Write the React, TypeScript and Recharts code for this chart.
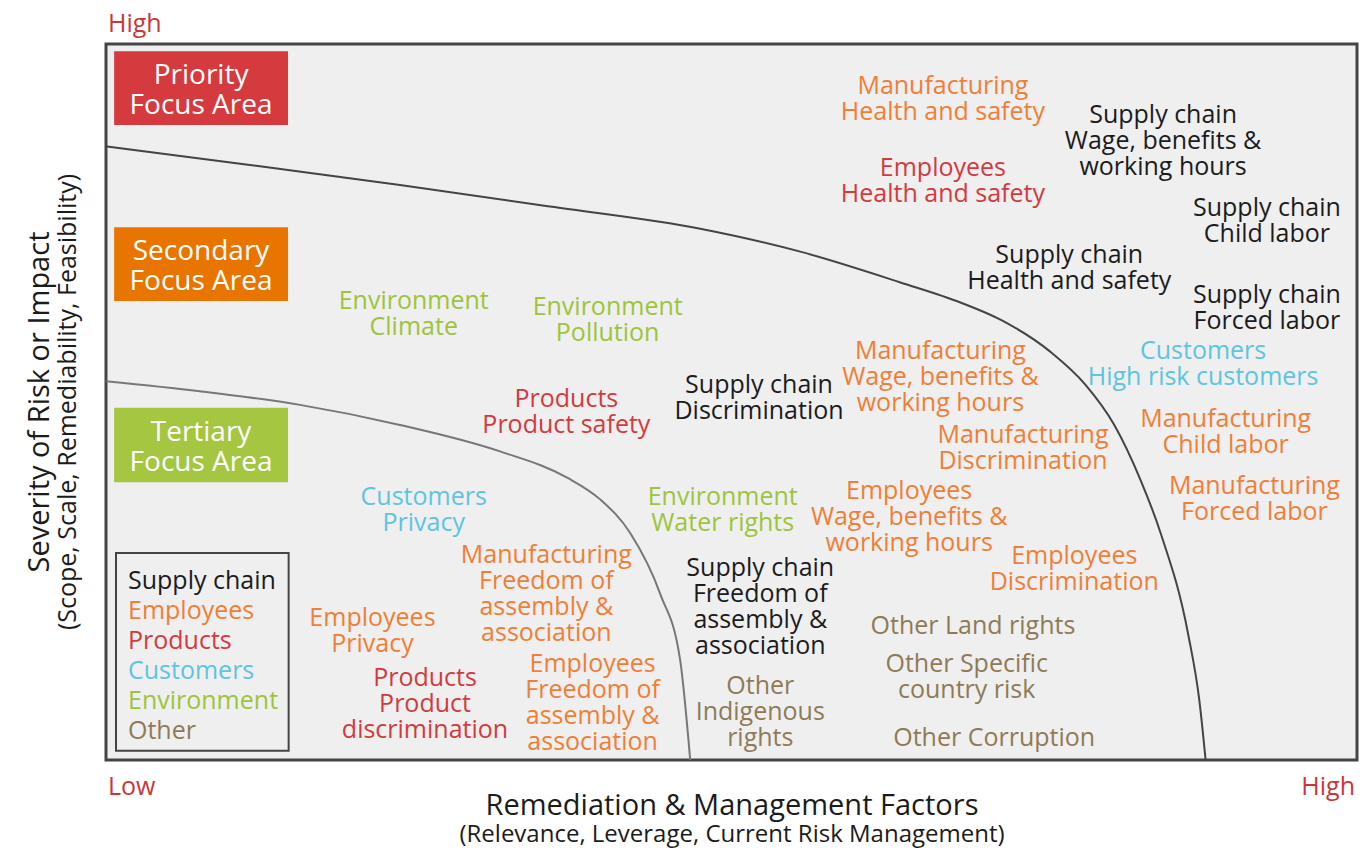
import React from 'react';
import { ComposedChart, XAxis, YAxis, Line, Scatter, ReferenceArea } from 'recharts';

const FONT = '"Open Sans", "Noto Sans", sans-serif';

// legend categories and their colours
const categories = ['Supply chain', 'Employees', 'Products', 'Customers', 'Environment', 'Other'];
const categoryColors: Record<string, string> = {
  'Supply chain': '#1b1b1b',
  Employees: '#f07e36',
  Manufacturing: '#f07e36',
  Products: '#d33a40',
  Customers: '#5ec4df',
  Environment: '#9dc43c',
  Other: '#8e7b55',
};

// x = remediation & management (0-100), y = severity (0-100)
const issues = [
  { group: 'Manufacturing', lines: ['Manufacturing', 'Health and safety'], x: 66.9, y: 92.6 },
  { group: 'Supply chain', lines: ['Supply chain', 'Wage, benefits &', 'working hours'], x: 84.5, y: 86.8 },
  { group: 'Products', lines: ['Employees', 'Health and safety'], x: 66.9, y: 81.1 },
  { group: 'Supply chain', lines: ['Supply chain', 'Child labor'], x: 92.8, y: 75.5 },
  { group: 'Supply chain', lines: ['Supply chain', 'Health and safety'], x: 77.0, y: 69.0 },
  { group: 'Supply chain', lines: ['Supply chain', 'Forced labor'], x: 92.8, y: 63.4 },
  { group: 'Environment', lines: ['Environment', 'Climate'], x: 24.6, y: 62.6 },
  { group: 'Environment', lines: ['Environment', 'Pollution'], x: 40.1, y: 61.8 },
  { group: 'Customers', lines: ['Customers', 'High risk customers'], x: 87.7, y: 55.6 },
  { group: 'Manufacturing', lines: ['Manufacturing', 'Wage, benefits &', 'working hours'], x: 66.7, y: 53.8 },
  { group: 'Products', lines: ['Products', 'Product safety'], x: 36.8, y: 48.9 },
  { group: 'Supply chain', lines: ['Supply chain', 'Discrimination'], x: 52.2, y: 50.8 },
  { group: 'Manufacturing', lines: ['Manufacturing', 'Child labor'], x: 89.5, y: 46.1 },
  { group: 'Manufacturing', lines: ['Manufacturing', 'Discrimination'], x: 73.3, y: 43.8 },
  { group: 'Customers', lines: ['Customers', 'Privacy'], x: 25.4, y: 35.2 },
  { group: 'Environment', lines: ['Environment', 'Water rights'], x: 49.3, y: 35.2 },
  { group: 'Employees', lines: ['Employees', 'Wage, benefits &', 'working hours'], x: 64.2, y: 34.2 },
  { group: 'Manufacturing', lines: ['Manufacturing', 'Forced labor'], x: 91.8, y: 36.7 },
  { group: 'Employees', lines: ['Employees', 'Discrimination'], x: 77.4, y: 27.0 },
  { group: 'Manufacturing', lines: ['Manufacturing', 'Freedom of', 'assembly &', 'association'], x: 35.2, y: 23.4 },
  { group: 'Supply chain', lines: ['Supply chain', 'Freedom of', 'assembly &', 'association'], x: 52.3, y: 21.7 },
  { group: 'Employees', lines: ['Employees', 'Privacy'], x: 21.3, y: 18.3 },
  { group: 'Other', lines: ['Other Land rights'], x: 69.3, y: 19.0 },
  { group: 'Other', lines: ['Other Specific', 'country risk'], x: 68.8, y: 11.9 },
  { group: 'Products', lines: ['Products', 'Product', 'discrimination'], x: 25.5, y: 8.1 },
  { group: 'Employees', lines: ['Employees', 'Freedom of', 'assembly &', 'association'], x: 38.9, y: 8.3 },
  { group: 'Other', lines: ['Other', 'Indigenous', 'rights'], x: 52.3, y: 7.0 },
  { group: 'Other', lines: ['Other Corruption'], x: 71.0, y: 3.4 },
];

// boundary between priority and secondary areas
const outerBoundary = [
  { x: 0, y: 85.7 },
  { x: 11.5, y: 83.1 },
  { x: 23.5, y: 80.3 },
  { x: 35.5, y: 77.3 },
  { x: 47.5, y: 74.2 },
  { x: 55.5, y: 71.0 },
  { x: 63.5, y: 66.7 },
  { x: 68.3, y: 63.9 },
  { x: 71.5, y: 61.5 },
  { x: 75.5, y: 57.0 },
  { x: 78.3, y: 52.4 },
  { x: 80.6, y: 46.8 },
  { x: 82.7, y: 39.1 },
  { x: 84.3, y: 31.7 },
  { x: 86.5, y: 17.6 },
  { x: 87.4, y: 8.3 },
  { x: 87.9, y: 0 },
];

// boundary between secondary and tertiary areas
const innerBoundary = [
  { x: 0, y: 52.9 },
  { x: 7.5, y: 51.5 },
  { x: 15.5, y: 49.6 },
  { x: 23.5, y: 46.8 },
  { x: 31.5, y: 43.1 },
  { x: 36.9, y: 39.4 },
  { x: 39.5, y: 36.4 },
  { x: 41.9, y: 31.7 },
  { x: 44.3, y: 23.2 },
  { x: 45.9, y: 13.9 },
  { x: 46.7, y: 0 },
];

const zones = [
  { name: ['Priority', 'Focus Area'], color: '#d53a3e', y1: 88.7, y2: 99.0 },
  { name: ['Secondary', 'Focus Area'], color: '#e87500', y1: 64.1, y2: 74.4 },
  { name: ['Tertiary', 'Focus Area'], color: '#a5c640', y1: 38.8, y2: 49.2 },
];

const LINE_H = 26;

const IssueLabel = (props: any) => {
  const { cx, cy, payload } = props;
  const n = payload.lines.length;
  const top = cy - ((n - 1) * LINE_H) / 2;
  return (
    <text
      x={cx}
      y={top}
      textAnchor="middle"
      dominantBaseline="central"
      fontFamily={FONT}
      fontSize={25}
      fill={categoryColors[payload.group]}
    >
      {payload.lines.map((l: string, i: number) => (
        <tspan key={i} x={cx} dy={i === 0 ? 0 : LINE_H}>
          {l}
        </tspan>
      ))}
    </text>
  );
};

const ZoneLabel = ({ viewBox, lines }: any) => {
  const { x, y, width, height } = viewBox;
  const cx = x + width / 2;
  const cy = y + height / 2;
  return (
    <text x={cx} y={cy - 15} textAnchor="middle" dominantBaseline="central" fontFamily={FONT} fontSize={28} fill="#fff">
      <tspan x={cx} dy={0}>{lines[0]}</tspan>
      <tspan x={cx} dy={30}>{lines[1]}</tspan>
    </text>
  );
};

const LegendLabel = ({ viewBox }: any) => {
  const { x, y } = viewBox;
  return (
    <g>
      {categories.map((c, i) => (
        <text
          key={c}
          x={x + 12}
          y={y + 26 + i * 30}
          dominantBaseline="central"
          fontFamily={FONT}
          fontSize={25}
          fill={categoryColors[c]}
        >
          {c}
        </text>
      ))}
    </g>
  );
};

const App = () => {
  return (
    <div style={{ position: 'absolute', left: 0, top: 0 }}>
      <ComposedChart width={1364} height={851} margin={{ top: 44, right: 7, bottom: 91, left: 106 }}>
        <XAxis type="number" dataKey="x" domain={[0, 100]} hide allowDataOverflow />
        <YAxis type="number" dataKey="y" domain={[0, 100]} hide allowDataOverflow />
        <ReferenceArea x1={0} x2={100} y1={0} y2={100} fill="#efefef" fillOpacity={1} stroke="#454545" strokeWidth={3} />
        {zones.map((z) => (
          <ReferenceArea
            key={z.name[0]}
            x1={0.65}
            x2={14.55}
            y1={z.y1}
            y2={z.y2}
            fill={z.color}
            fillOpacity={1}
            label={<ZoneLabel lines={z.name} />}
          />
        ))}
        <ReferenceArea
          x1={0.8}
          x2={14.6}
          y1={1.3}
          y2={28.9}
          fill="#efefef"
          fillOpacity={1}
          stroke="#454545"
          strokeWidth={2}
          label={<LegendLabel />}
        />
        <Line data={outerBoundary} dataKey="y" type="monotone" stroke="#444" strokeWidth={2} dot={false} isAnimationActive={false} />
        <Line data={innerBoundary} dataKey="y" type="monotone" stroke="#777" strokeWidth={2} dot={false} isAnimationActive={false} />
        <Scatter data={issues} shape={<IssueLabel />} isAnimationActive={false} />
        <g fontFamily={FONT}>
          <text x={108} y={22} dominantBaseline="central" fontSize={25} fill="#c8373a">High</text>
          <text x={108} y={785} dominantBaseline="central" fontSize={25} fill="#c8373a">Low</text>
          <text x={1355} y={785} textAnchor="end" dominantBaseline="central" fontSize={25} fill="#c8373a">High</text>
          <text x={732} y={803} textAnchor="middle" dominantBaseline="central" fontSize={29} fill="#1b1b1b">
            Remediation &amp; Management Factors
          </text>
          <text x={732} y={832} textAnchor="middle" dominantBaseline="central" fontSize={24} fill="#1b1b1b">
            (Relevance, Leverage, Current Risk Management)
          </text>
          <text x={37} y={402} transform="rotate(-90 37 402)" textAnchor="middle" dominantBaseline="central" fontSize={29} fill="#1b1b1b">
            Severity of Risk or Impact
          </text>
          <text x={66} y={402} transform="rotate(-90 66 402)" textAnchor="middle" dominantBaseline="central" fontSize={25} fill="#1b1b1b">
            (Scope, Scale, Remediability, Feasibility)
          </text>
        </g>
      </ComposedChart>
    </div>
  );
};

export default App;
